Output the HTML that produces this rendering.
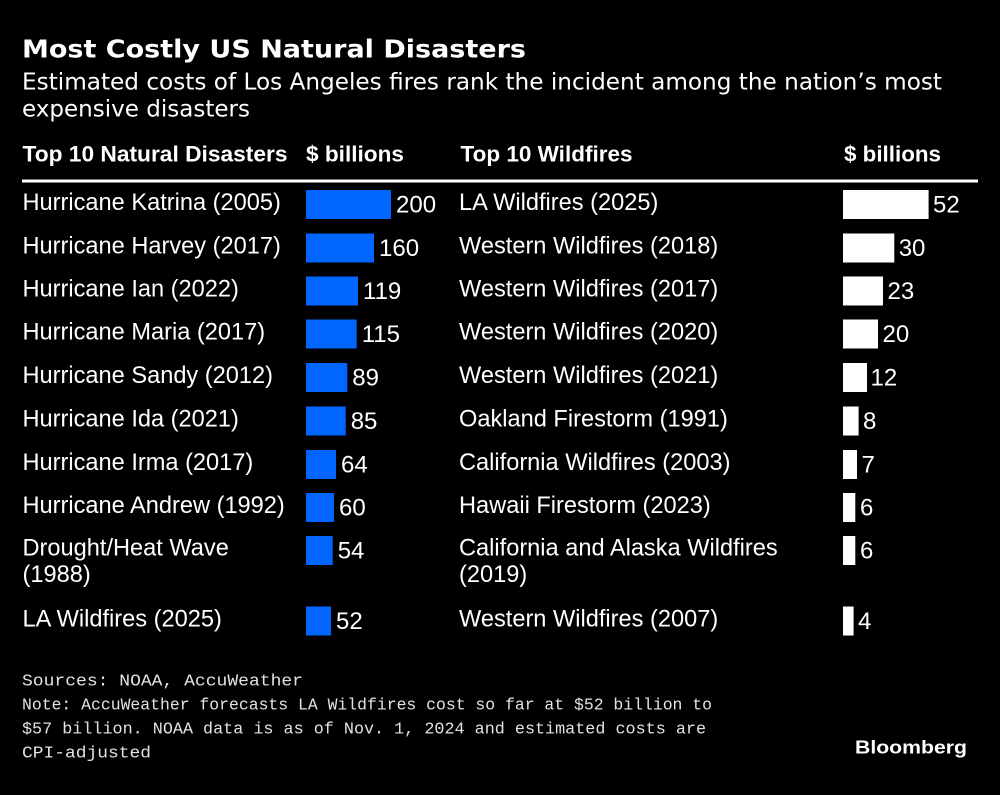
<!DOCTYPE html>
<html><head><meta charset="utf-8"><style>
html,body{margin:0;padding:0;background:#000;}
svg{display:block;}
.t{font-family:"DejaVu Sans",sans-serif;fill:#fff;}
.h{font-family:"Liberation Sans",sans-serif;font-weight:bold;font-size:22.5px;fill:#fff;}
.l{font-family:"Liberation Sans",sans-serif;font-size:23.6px;fill:#fff;}
.n{font-family:"Liberation Sans",sans-serif;font-size:24px;fill:#fff;}
.f{font-family:"Liberation Mono",monospace;font-size:16.5px;fill:#e2e2e2;}
</style></head><body>
<svg width="1000" height="795" viewBox="0 0 1000 795" xmlns="http://www.w3.org/2000/svg">
<rect width="1000" height="795" fill="#000"/>
<text class="t" x="22" y="57.7" font-size="25" font-weight="bold" textLength="504" lengthAdjust="spacingAndGlyphs">Most Costly US Natural Disasters</text>
<text class="t" x="22" y="89.5" font-size="23" textLength="920" lengthAdjust="spacingAndGlyphs">Estimated costs of Los Angeles fires rank the incident among the nation’s most</text>
<text class="t" x="22" y="116.7" font-size="23" textLength="228" lengthAdjust="spacingAndGlyphs">expensive disasters</text>

<text class="h" x="22.5" y="161.7" textLength="265" lengthAdjust="spacingAndGlyphs">Top 10 Natural Disasters</text>
<text class="h" x="306" y="161.7" textLength="98" lengthAdjust="spacingAndGlyphs">$ billions</text>
<text class="h" x="460.5" y="161.7" textLength="172" lengthAdjust="spacingAndGlyphs">Top 10 Wildfires</text>
<text class="h" x="844" y="161.7" textLength="97" lengthAdjust="spacingAndGlyphs">$ billions</text>
<rect x="22" y="179.5" width="956" height="3" fill="#fff"/>

<!-- Left column -->
<g>
<text class="l" x="22.5" y="210">Hurricane Katrina (2005)</text>
<rect x="306" y="190" width="85" height="29" fill="#0066ff"/>
<text class="n" x="396" y="212.7">200</text>

<text class="l" x="22.5" y="253.5">Hurricane Harvey (2017)</text>
<rect x="306" y="233.5" width="68" height="29" fill="#0066ff"/>
<text class="n" x="379" y="256.2">160</text>

<text class="l" x="22.5" y="296.5">Hurricane Ian (2022)</text>
<rect x="306" y="276.5" width="52" height="29" fill="#0066ff"/>
<text class="n" x="363" y="299.2">119</text>

<text class="l" x="22.5" y="339.5">Hurricane Maria (2017)</text>
<rect x="306" y="319.5" width="50.7" height="29" fill="#0066ff"/>
<text class="n" x="361.7" y="342.2">115</text>

<text class="l" x="22.5" y="383">Hurricane Sandy (2012)</text>
<rect x="306" y="363" width="41.3" height="29" fill="#0066ff"/>
<text class="n" x="352.3" y="385.7">89</text>

<text class="l" x="22.5" y="426.5">Hurricane Ida (2021)</text>
<rect x="306" y="406.5" width="39.7" height="29" fill="#0066ff"/>
<text class="n" x="350.7" y="429.2">85</text>

<text class="l" x="22.5" y="470">Hurricane Irma (2017)</text>
<rect x="306" y="450" width="30" height="29" fill="#0066ff"/>
<text class="n" x="341" y="472.7">64</text>

<text class="l" x="22.5" y="513">Hurricane Andrew (1992)</text>
<rect x="306" y="493" width="28" height="29" fill="#0066ff"/>
<text class="n" x="339" y="515.7">60</text>

<text class="l" x="22.5" y="555.7">Drought/Heat Wave</text>
<text class="l" x="22.5" y="582.2">(1988)</text>
<rect x="306" y="536" width="26.7" height="29" fill="#0066ff"/>
<text class="n" x="337.7" y="558.7">54</text>

<text class="l" x="22.5" y="626.5">LA Wildfires (2025)</text>
<rect x="306" y="606.5" width="25" height="29" fill="#0066ff"/>
<text class="n" x="336" y="629.2">52</text>
</g>

<!-- Right column -->
<g>
<text class="l" x="459" y="210">LA Wildfires (2025)</text>
<rect x="843" y="190" width="85.6" height="29" fill="#fff"/>
<text class="n" x="933" y="212.7">52</text>

<text class="l" x="459" y="253.5">Western Wildfires (2018)</text>
<rect x="843" y="233.5" width="51.3" height="29" fill="#fff"/>
<text class="n" x="898.7" y="256.2">30</text>

<text class="l" x="459" y="296.5">Western Wildfires (2017)</text>
<rect x="843" y="276.5" width="40" height="29" fill="#fff"/>
<text class="n" x="887.5" y="299.2">23</text>

<text class="l" x="459" y="339.5">Western Wildfires (2020)</text>
<rect x="843" y="319.5" width="35" height="29" fill="#fff"/>
<text class="n" x="882.5" y="342.2">20</text>

<text class="l" x="459" y="383">Western Wildfires (2021)</text>
<rect x="843" y="363" width="24" height="29" fill="#fff"/>
<text class="n" x="870.5" y="385.7">12</text>

<text class="l" x="459" y="426.5">Oakland Firestorm (1991)</text>
<rect x="843" y="406.5" width="15.6" height="29" fill="#fff"/>
<text class="n" x="863" y="429.2">8</text>

<text class="l" x="459" y="470">California Wildfires (2003)</text>
<rect x="843" y="450" width="14" height="29" fill="#fff"/>
<text class="n" x="861.5" y="472.7">7</text>

<text class="l" x="459" y="513">Hawaii Firestorm (2023)</text>
<rect x="843" y="493" width="12.3" height="29" fill="#fff"/>
<text class="n" x="860" y="515.7">6</text>

<text class="l" x="459" y="555.7">California and Alaska Wildfires</text>
<text class="l" x="459" y="582.2">(2019)</text>
<rect x="843" y="536" width="12.3" height="29" fill="#fff"/>
<text class="n" x="860" y="558.7">6</text>

<text class="l" x="459" y="626.5">Western Wildfires (2007)</text>
<rect x="843" y="606.5" width="10.6" height="29" fill="#fff"/>
<text class="n" x="858" y="629.2">4</text>
</g>

<!-- Footer -->
<text class="f" x="22" y="685.7" textLength="281" lengthAdjust="spacingAndGlyphs">Sources: NOAA, AccuWeather</text>
<text class="f" x="22" y="709.7" textLength="690" lengthAdjust="spacingAndGlyphs">Note: AccuWeather forecasts LA Wildfires cost so far at $52 billion to</text>
<text class="f" x="22" y="733.5" textLength="684" lengthAdjust="spacingAndGlyphs">$57 billion. NOAA data is as of Nov. 1, 2024 and estimated costs are</text>
<text class="f" x="22" y="757.3" textLength="129" lengthAdjust="spacingAndGlyphs">CPI-adjusted</text>

<text x="855" y="753.3" font-family="Liberation Sans, sans-serif" font-weight="bold" font-size="18.5" fill="#fff" textLength="112" lengthAdjust="spacingAndGlyphs">Bloomberg</text>
</svg>
</body></html>
